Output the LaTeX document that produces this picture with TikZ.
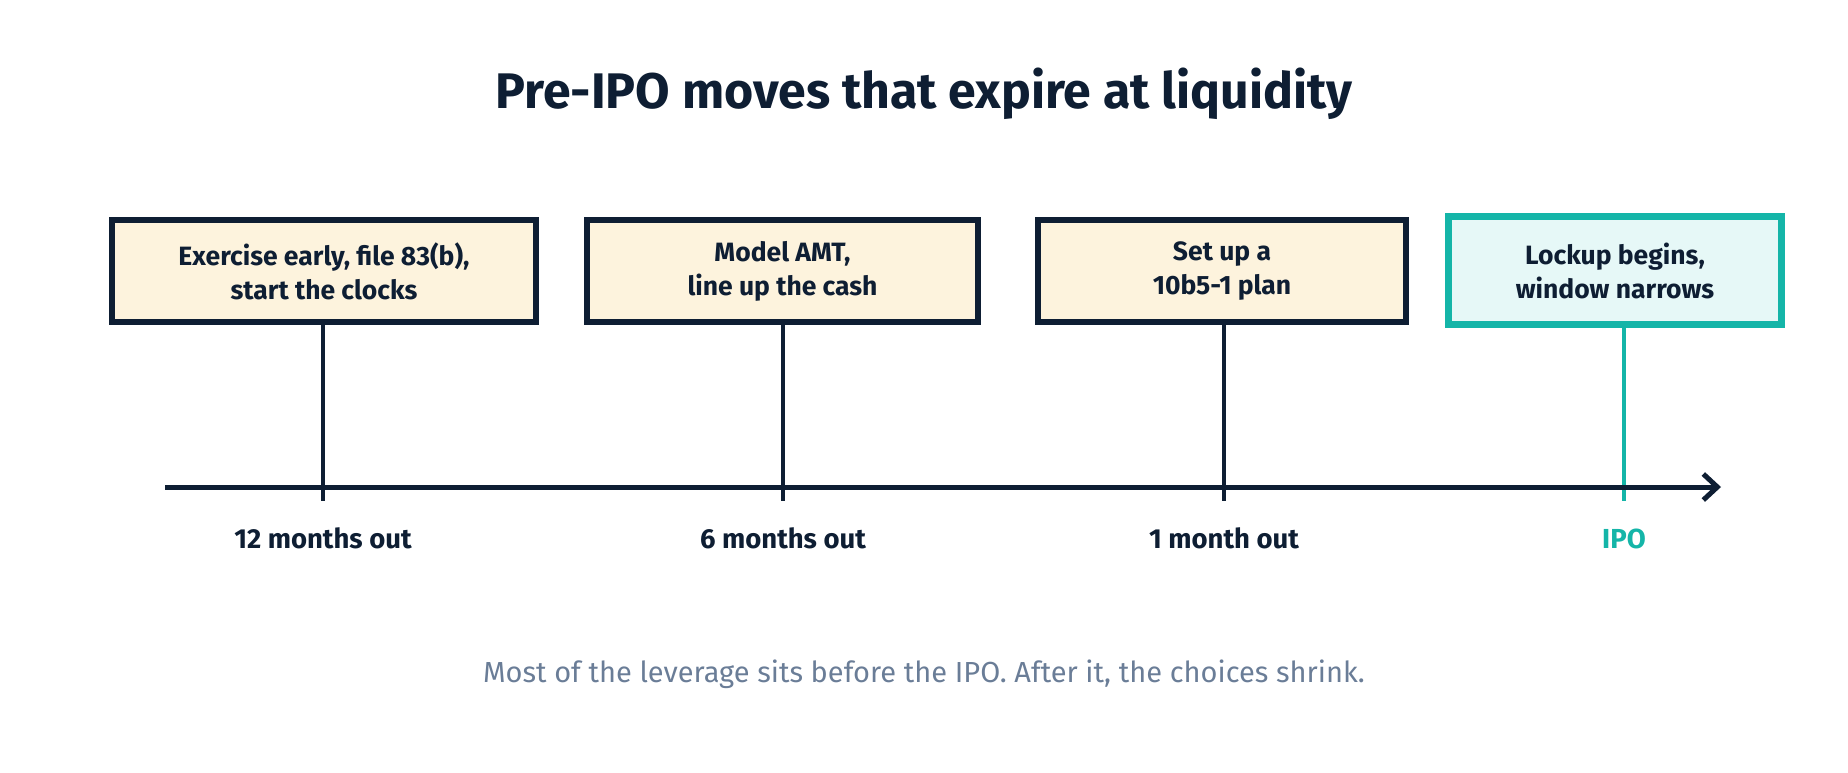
\documentclass[tikz,border=0pt]{standalone}
\usepackage{fontspec}
\setmainfont{Fira Sans}
\usetikzlibrary{arrows.meta}
\definecolor{ink}{HTML}{0E1E33}
\definecolor{cream}{HTML}{FDF3DD}
\definecolor{teal}{HTML}{14B5A8}
\definecolor{tealfill}{HTML}{E6F8F7}
\definecolor{slate}{HTML}{6A7D97}
\tikzset{
  evbox/.style={draw=ink, line width=5.5pt, fill=cream, minimum height=102pt, align=center, text=ink, font=\fontsize{26.5}{34}\selectfont\bfseries, inner sep=0pt},
  ipobox/.style={draw=teal, line width=7pt, fill=tealfill, minimum height=108pt, minimum width=333pt, align=center, text=ink, font=\fontsize{26.5}{34}\selectfont\bfseries, inner sep=0pt},
  stem/.style={draw=ink, line width=3.5pt},
  tlabel/.style={text=ink, font=\fontsize{27.5}{30}\selectfont\bfseries, anchor=base},
}
\begin{document}
\begin{tikzpicture}[x=1pt,y=-1pt]
\useasboundingbox (0,0) rectangle (1848,772);
\node[font=\fontsize{50}{60}\selectfont\bfseries, text=ink] (title) at (924,94) {Pre-IPO moves that expire at liquidity};

\node[evbox, minimum width=424pt] (b1) at (324,271) {Exercise early, file 83(b),\\start the clocks};
\node[evbox, minimum width=391pt] (b2) at (782.5,271) {Model AMT,\\line up the cash};
\node[evbox, minimum width=368pt] (b3) at (1222,271) {Set up a\\10b5-1 plan};
\node[ipobox] (b4) at (1615,270.5) {Lockup begins,\\window narrows};

\coordinate (a0) at (165,487);
\coordinate (a1) at (1721,487);
\coordinate (t1) at (323,501);
\coordinate (t2) at (783,501);
\coordinate (t3) at (1224,501);
\coordinate (t4) at (1624,501);

\draw[stem] (b1.south -| t1) -- (t1);
\draw[stem] (b2.south -| t2) -- (t2);
\draw[stem] (b3.south -| t3) -- (t3);
\draw[stem, draw=teal] (b4.south -| t4) -- (t4);

\draw[draw=ink, line width=5pt, -{Straight Barb[length=14pt,width=26pt,line width=5pt]}] (a0) -- (a1);

\node[tlabel] (l1) at (323,548) {12 months out};
\node[tlabel] (l2) at (783,548) {6 months out};
\node[tlabel] (l3) at (1224,548) {1 month out};
\node[tlabel, text=teal] (l4) at (1624,548) {IPO};

\node[text=slate, font=\fontsize{29}{34}\selectfont] (cap) at (924,674) {Most of the leverage sits before the IPO. After it, the choices shrink.};
\end{tikzpicture}
\end{document}
